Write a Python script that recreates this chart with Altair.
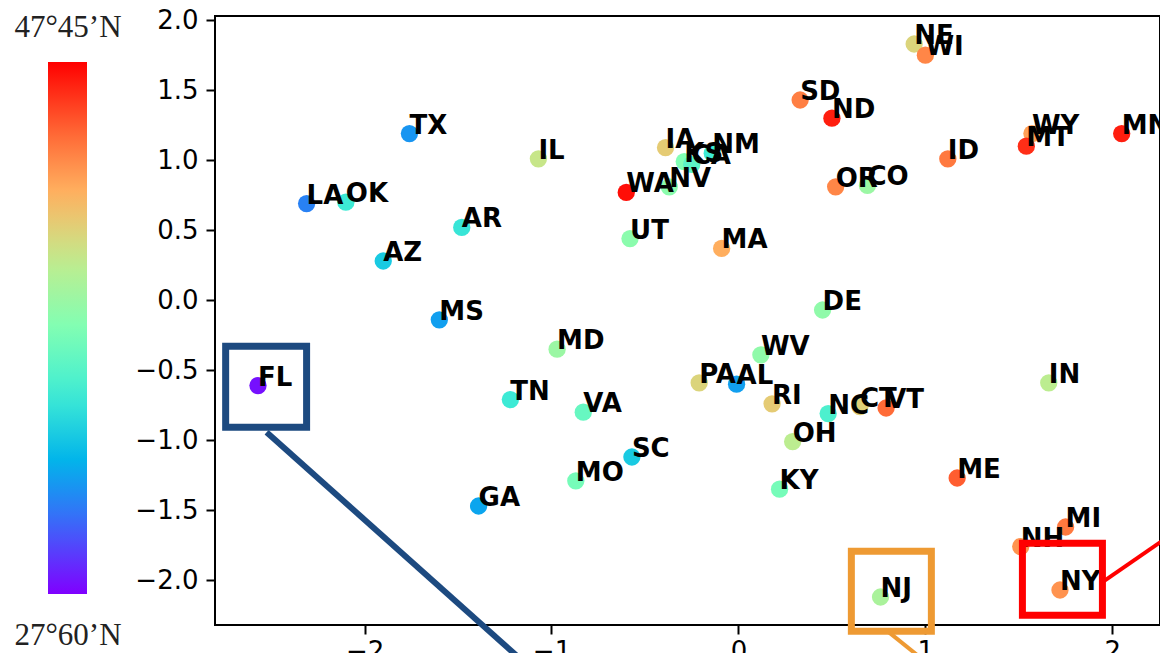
import altair as alt
import pandas as pd

# ---- data ----
states = ["FL", "LA", "OK", "AZ", "TX", "AR", "MS", "IL", "IA", "KS", "CA", "NM",
          "WA", "NV", "UT", "MA", "SD", "ND", "NE", "WI", "OR", "CO", "ID", "WY",
          "MT", "MN", "DE", "MD", "TN", "VA", "SC", "MO", "GA", "PA", "AL", "WV",
          "RI", "NC", "CT", "VT", "OH", "KY", "IN", "ME", "MI", "NH", "NY", "NJ"]
x_vals = [-2.57, -2.31, -2.10, -1.90, -1.76, -1.48, -1.60, -1.07, -0.39, -0.29, -0.25, -0.14,
          -0.60, -0.37, -0.58, -0.09, 0.33, 0.50, 0.94, 1.00, 0.52, 0.69, 1.12, 1.57,
          1.54, 2.05, 0.45, -0.97, -1.22, -0.83, -0.57, -0.87, -1.39, -0.21, -0.01, 0.12,
          0.18, 0.48, 0.65, 0.79, 0.29, 0.22, 1.66, 1.17, 1.75, 1.51, 1.72, 0.76]
y_vals = [-0.61, 0.69, 0.70, 0.28, 1.19, 0.52, -0.14, 1.01, 1.09, 0.99, 0.97, 1.05,
          0.77, 0.81, 0.44, 0.37, 1.43, 1.30, 1.83, 1.75, 0.81, 0.82, 1.01, 1.19,
          1.10, 1.19, -0.07, -0.35, -0.71, -0.80, -1.12, -1.29, -1.47, -0.59, -0.60, -0.39,
          -0.74, -0.81, -0.76, -0.77, -1.01, -1.35, -0.59, -1.27, -1.62, -1.76, -2.07, -2.12]
lat_vals = [28.4, 31.4, 35.3, 33.9, 32.0, 35.1, 32.3, 40.6, 41.8, 37.9, 36.5, 35.3,
            47.4, 38.3, 38.3, 43.0, 44.4, 47.0, 41.4, 44.2, 44.2, 38.9, 44.6, 43.4,
            46.6, 47.0, 38.5, 38.9, 35.3, 36.9, 33.9, 37.5, 32.5, 41.4, 32.3, 38.5,
            41.8, 35.9, 41.6, 45.0, 40.2, 37.5, 40.2, 45.4, 44.6, 43.8, 43.8, 39.5]

lat_min, lat_max = 28.0, 47.75
rainbow = ["#8000ff", "#4062fa", "#00b4eb", "#40ecd4", "#80ffb4",
           "#c0ec8e", "#ffb462", "#ff6232", "#ff0000"]
color_domain = [lat_min + i * (lat_max - lat_min) / 8 for i in range(9)]

y_ticks = [-2.0, -1.5, -1.0, -0.5, 0.0, 0.5, 1.0, 1.5, 2.0]
x_ticks = [-2, -1, 0, 1, 2]

# highlight boxes and their leader lines
box_names = ["FL", "NJ", "NY"]
box_colors = ["#1d4a80", "#ee9a33", "#ff0000"]
box_x1 = [-2.743, 0.604, 1.519]
box_x2 = [-2.310, 1.032, 1.947]
box_y1 = [-0.329, -1.793, -1.736]
box_y2 = [-0.907, -2.364, -2.250]
link_x1 = [-2.524, 0.797, 1.947]
link_y1 = [-0.943, -2.364, -2.014]
link_x2 = [-0.920, 1.257, 2.465]
link_y2 = [-2.857, -2.857, -1.536]
link_w = [6, 4, 4]

df = pd.DataFrame({"state": states, "x": x_vals, "y": y_vals, "lat": lat_vals})
boxes = pd.DataFrame({"box": box_names, "x1": box_x1, "x2": box_x2,
                      "y1": box_y1, "y2": box_y2})
links = pd.DataFrame({"box": box_names, "x1": link_x1, "x2": link_x2,
                      "y1": link_y1, "y2": link_y2, "w": link_w})

xscale = alt.Scale(domain=[-2.80, 2.255], nice=False, zero=False)
yscale = alt.Scale(domain=[-2.32, 2.03], nice=False, zero=False)
xaxis = alt.Axis(values=x_ticks, format="d", title=None, grid=False, domain=False,
                 tickSize=9, tickWidth=2, tickColor="black", labelFontSize=26,
                 labelFont="DejaVu Sans", labelColor="black", labelPadding=4)
yaxis = alt.Axis(values=y_ticks, format=".1f", title=None, grid=False, domain=False,
                 tickSize=9, tickWidth=2, tickColor="black", labelFontSize=26,
                 labelFont="DejaVu Sans", labelColor="black", labelPadding=8)

stroke_scale = alt.Scale(domain=box_names, range=box_colors)

points = alt.Chart(df).mark_circle(size=300, opacity=1).encode(
    x=alt.X("x:Q", scale=xscale, axis=xaxis),
    y=alt.Y("y:Q", scale=yscale, axis=yaxis),
    color=alt.Color("lat:Q",
                    scale=alt.Scale(domain=color_domain, range=rainbow, interpolate="rgb"),
                    legend=alt.Legend(orient="none", legendX=-167, legendY=46, title=None,
                                      gradientLength=532, gradientThickness=39,
                                      gradientStrokeWidth=0, labelExpr="''",
                                      direction="vertical", padding=0)),
)

labels = alt.Chart(df).mark_text(align="left", baseline="alphabetic", font="DejaVu Sans",
                                 fontWeight="bold", fontSize=26, color="black").encode(
    x="x:Q", y="y:Q", text="state:N")

box_layer = alt.Chart(boxes).mark_rect(filled=False, strokeWidth=7, clip=False).encode(
    x="x1:Q", x2="x2:Q", y="y1:Q", y2="y2:Q",
    stroke=alt.Stroke("box:N", scale=stroke_scale, legend=None))

link_layer = alt.Chart(links).mark_rule(clip=False).encode(
    x="x1:Q", x2="x2:Q", y="y1:Q", y2="y2:Q",
    stroke=alt.Stroke("box:N", scale=stroke_scale, legend=None),
    strokeWidth=alt.StrokeWidth("w:Q", scale=None))

top_label = alt.Chart(pd.DataFrame({"t": ["47°45’N"]})).mark_text(
    align="center", baseline="alphabetic", font="Liberation Serif", fontSize=31,
    color="#222222").encode(text="t:N", x=alt.value(-147), y=alt.value(21))
bottom_label = alt.Chart(pd.DataFrame({"t": ["27°60’N"]})).mark_text(
    align="center", baseline="alphabetic", font="Liberation Serif", fontSize=31,
    color="#222222").encode(text="t:N", x=alt.value(-147), y=alt.value(629))

chart = alt.layer(points, labels, box_layer, link_layer, top_label, bottom_label).resolve_scale(
    color="independent", stroke="shared"
).properties(
    width=945, height=609,
    autosize=alt.AutoSizeParams(type="none"),
    padding={"left": 207, "top": 8, "right": 0, "bottom": 28},
    background="white",
).configure_view(stroke="black", strokeWidth=2).configure_legend(
    gradientVerticalMaxLength=600)

chart.save("out.html", embed_options={"renderer": "svg", "actions": False})
